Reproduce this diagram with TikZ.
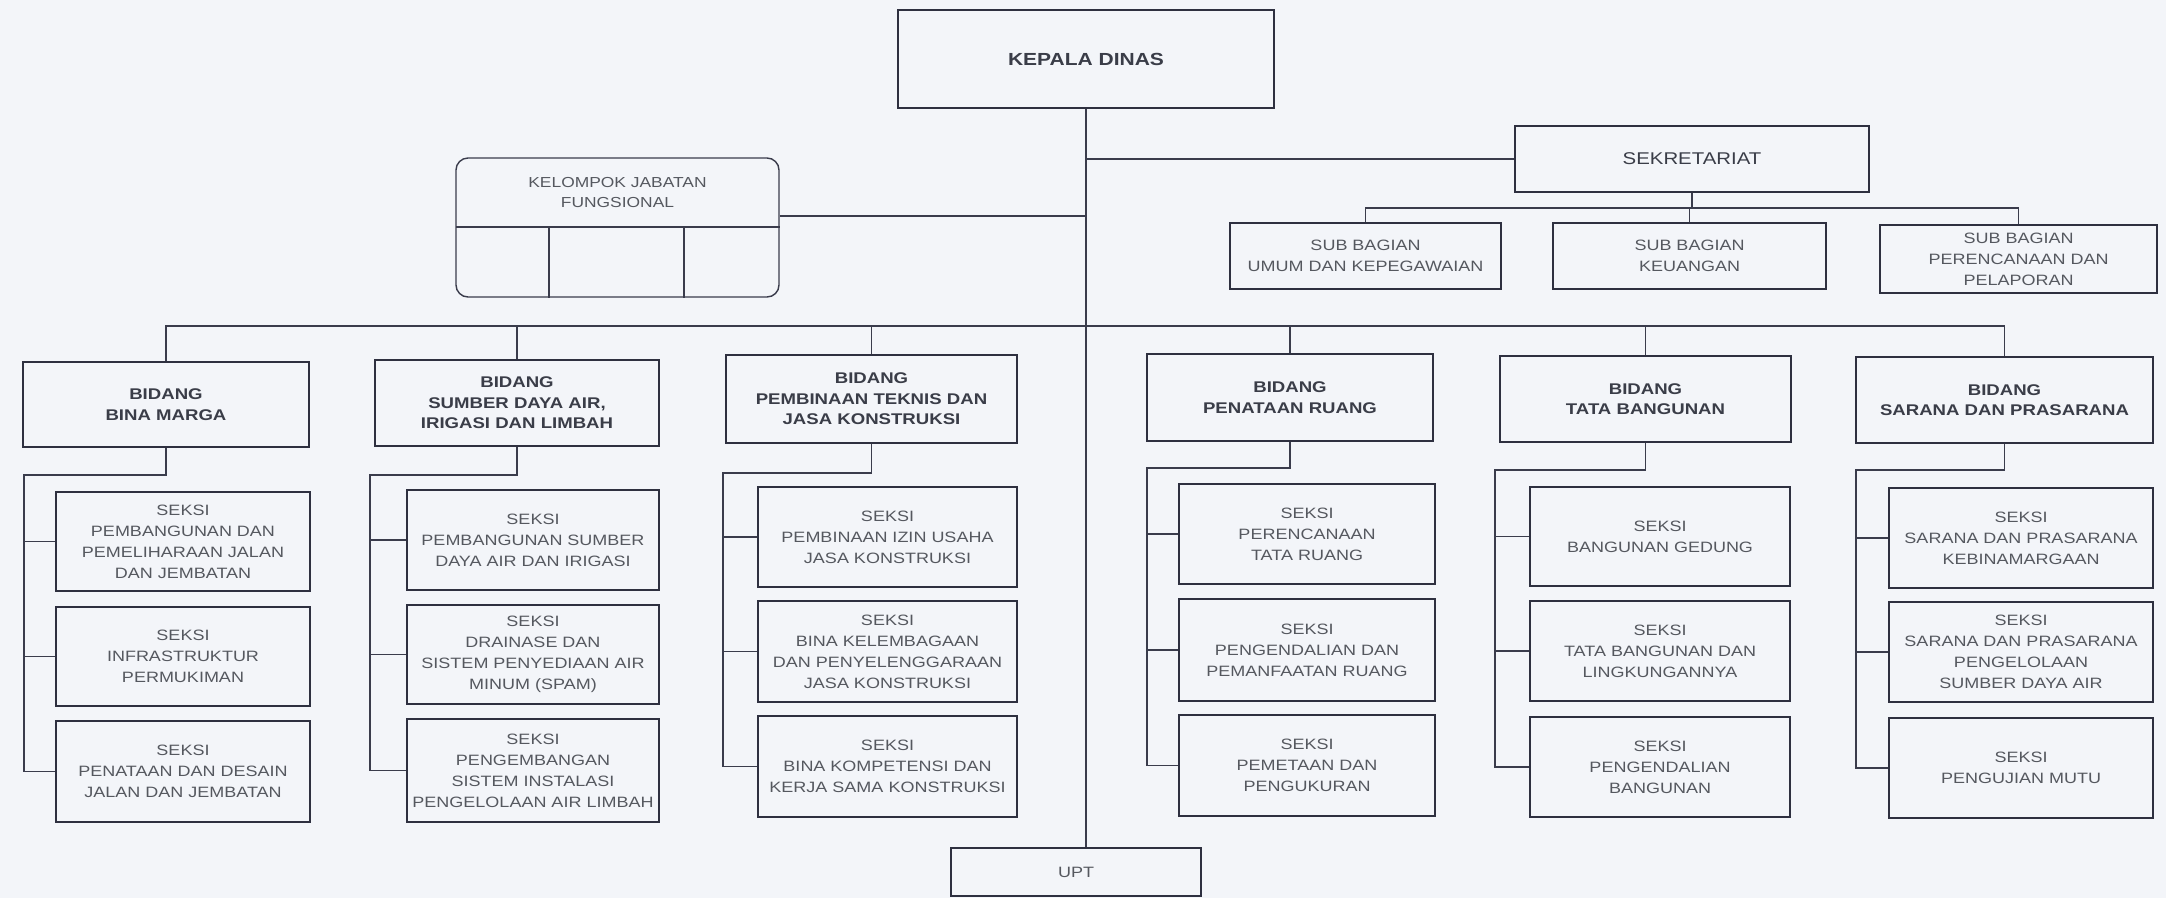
\documentclass[tikz,border=0pt]{standalone}
\usepackage{fontspec}
\setmainfont[FakeStretch=1.2]{Liberation Sans}
\definecolor{bgc}{HTML}{F3F5F9}
\definecolor{linec}{HTML}{2E3040}
\definecolor{connc}{HTML}{3A3C4C}
\definecolor{txt}{HTML}{55585F}
\definecolor{txtd}{HTML}{3A3D48}
\tikzset{
  bx/.style={draw=linec, line width=2.6pt, align=center, inner sep=0pt, text=txt,
    font=\fontsize{15}{21}\selectfont},
  bid/.style={bx, text=txtd, font=\fontsize{15.5}{20.5}\selectfont\bfseries},
  head/.style={bx, text=txtd, font=\fontsize{17}{21}\selectfont},
  conn/.style={draw=connc, line width=1.8pt},
  thin/.style={draw=connc, line width=1.4pt}
}
\newcommand\boxat[7]{%
  \node[#1, minimum width={(#5-#3)*1pt}, minimum height={(#6-#4)*1pt}]
    (#2) at ({(#3+#5)/2},{(#4+#6)/2}) {#7};}
\begin{document}
\begin{tikzpicture}[x=1pt,y=-1pt]
\fill[bgc] (0,0) rectangle (2166,898);
\useasboundingbox (0,0) rectangle (2166,898);

% top level
\boxat{head, font=\fontsize{17.5}{21}\selectfont\bfseries}{kd}{898}{10}{1274}{108}{KEPALA DINAS}
\boxat{head}{sek}{1515}{126}{1869}{192}{SEKRETARIAT}
\boxat{bx}{sb1}{1230}{223}{1501}{289}{SUB BAGIAN\\UMUM DAN KEPEGAWAIAN}
\boxat{bx}{sb2}{1553}{223}{1826}{289}{SUB BAGIAN\\KEUANGAN}
\boxat{bx}{sb3}{1880}{225}{2157}{293}{SUB BAGIAN\\PERENCANAAN DAN\\PELAPORAN}
\boxat{bx}{upt}{951}{848}{1201}{896}{UPT}

% kelompok jabatan fungsional
\boxat{thin, rounded corners=12pt, minimum width=323pt}{kjf}{456}{158}{779}{297}{}
\coordinate (kjfd) at (456,227);
\coordinate (kjfv1) at (549,227);
\coordinate (kjfv2) at (684,227);
\draw[thin] (kjfd) -- (kjfd -| kjf.east);
\draw[thin] (kjfv1) -- (kjfv1 |- kjf.south);
\draw[thin] (kjfv2) -- (kjfv2 |- kjf.south);
\node[text=txt, align=center, font=\fontsize{14.5}{20}\selectfont] (kjft) at (617.5,192.5)
  {KELOMPOK JABATAN\\FUNGSIONAL};

% bidang
\boxat{bid}{b1}{23}{362}{309}{447}{BIDANG\\BINA MARGA}
\boxat{bid}{b2}{375}{360}{659}{446}{BIDANG\\SUMBER DAYA AIR,\\IRIGASI DAN LIMBAH}
\boxat{bid}{b3}{726}{355}{1017}{443}{BIDANG\\PEMBINAAN TEKNIS DAN\\JASA KONSTRUKSI}
\boxat{bid}{b4}{1147}{354}{1433}{441}{BIDANG\\PENATAAN RUANG}
\boxat{bid}{b5}{1500}{356}{1791}{442}{BIDANG\\TATA BANGUNAN}
\boxat{bid}{b6}{1856}{357}{2153}{443}{BIDANG\\SARANA DAN PRASARANA}

% seksi column 1
\boxat{bx}{s11}{56}{492}{310}{591}{SEKSI\\PEMBANGUNAN DAN\\PEMELIHARAAN JALAN\\DAN JEMBATAN}
\boxat{bx}{s12}{56}{607}{310}{706}{SEKSI\\INFRASTRUKTUR\\PERMUKIMAN}
\boxat{bx}{s13}{56}{721}{310}{822}{SEKSI\\PENATAAN DAN DESAIN\\JALAN DAN JEMBATAN}
% column 2
\boxat{bx}{s21}{407}{490}{659}{590}{SEKSI\\PEMBANGUNAN SUMBER\\DAYA AIR DAN IRIGASI}
\boxat{bx}{s22}{407}{605}{659}{704}{SEKSI\\DRAINASE DAN\\SISTEM PENYEDIAAN AIR\\MINUM (SPAM)}
\boxat{bx}{s23}{407}{719}{659}{822}{SEKSI\\PENGEMBANGAN\\SISTEM INSTALASI\\PENGELOLAAN AIR LIMBAH}
% column 3
\boxat{bx}{s31}{758}{487}{1017}{587}{SEKSI\\PEMBINAAN IZIN USAHA\\JASA KONSTRUKSI}
\boxat{bx}{s32}{758}{601}{1017}{702}{SEKSI\\BINA KELEMBAGAAN\\DAN PENYELENGGARAAN\\JASA KONSTRUKSI}
\boxat{bx}{s33}{758}{716}{1017}{817}{SEKSI\\BINA KOMPETENSI DAN\\KERJA SAMA KONSTRUKSI}
% column 4
\boxat{bx}{s41}{1179}{484}{1435}{584}{SEKSI\\PERENCANAAN\\TATA RUANG}
\boxat{bx}{s42}{1179}{599}{1435}{701}{SEKSI\\PENGENDALIAN DAN\\PEMANFAATAN RUANG}
\boxat{bx}{s43}{1179}{715}{1435}{816}{SEKSI\\PEMETAAN DAN\\PENGUKURAN}
% column 5
\boxat{bx}{s51}{1530}{487}{1790}{586}{SEKSI\\BANGUNAN GEDUNG}
\boxat{bx}{s52}{1530}{601}{1790}{701}{SEKSI\\TATA BANGUNAN DAN\\LINGKUNGANNYA}
\boxat{bx}{s53}{1530}{717}{1790}{817}{SEKSI\\PENGENDALIAN\\BANGUNAN}
% column 6
\boxat{bx}{s61}{1889}{488}{2153}{588}{SEKSI\\SARANA DAN PRASARANA\\KEBINAMARGAAN}
\boxat{bx}{s62}{1889}{602}{2153}{702}{SEKSI\\SARANA DAN PRASARANA\\PENGELOLAAN\\SUMBER DAYA AIR}
\boxat{bx}{s63}{1889}{718}{2153}{818}{SEKSI\\PENGUJIAN MUTU}

% main trunk
\draw[conn] (kd.south) -- (kd.south |- upt.north);
\coordinate (kjfj) at (1086,216);
\draw[conn] (kjfj -| kjf.east) -- (kjfj);
\draw[conn] (sek.west) -- (sek.west -| kd.south);

% sub bagian
\coordinate (sbus) at (1689,208);
\draw[conn] (sek.south) -- (sek.south |- sbus);
\draw[conn] (sb1.north) |- (sbus) -| (sb3.north);
\draw[conn] (sb2.north) -- (sb2.north |- sbus);

% bidang bus
\coordinate (bus) at (1086,326);
\draw[conn] (b1.north) |- (bus) -| (b6.north);
\foreach \b in {b2,b3,b4,b5} \draw[conn] (\b.north) -- (\b.north |- bus);

% columns
\coordinate (l1) at (24,475);
\coordinate (l2) at (370,475);
\coordinate (l3) at (723,473);
\coordinate (l4) at (1147,468);
\coordinate (l5) at (1495,470);
\coordinate (l6) at (1856,470);
\foreach \c in {1,...,6} {
  \draw[conn] (b\c.south) |- (l\c) |- (s\c3.west);
  \draw[conn] (l\c |- s\c1.west) -- (s\c1.west);
  \draw[conn] (l\c |- s\c2.west) -- (s\c2.west);
}
\end{tikzpicture}
\end{document}
